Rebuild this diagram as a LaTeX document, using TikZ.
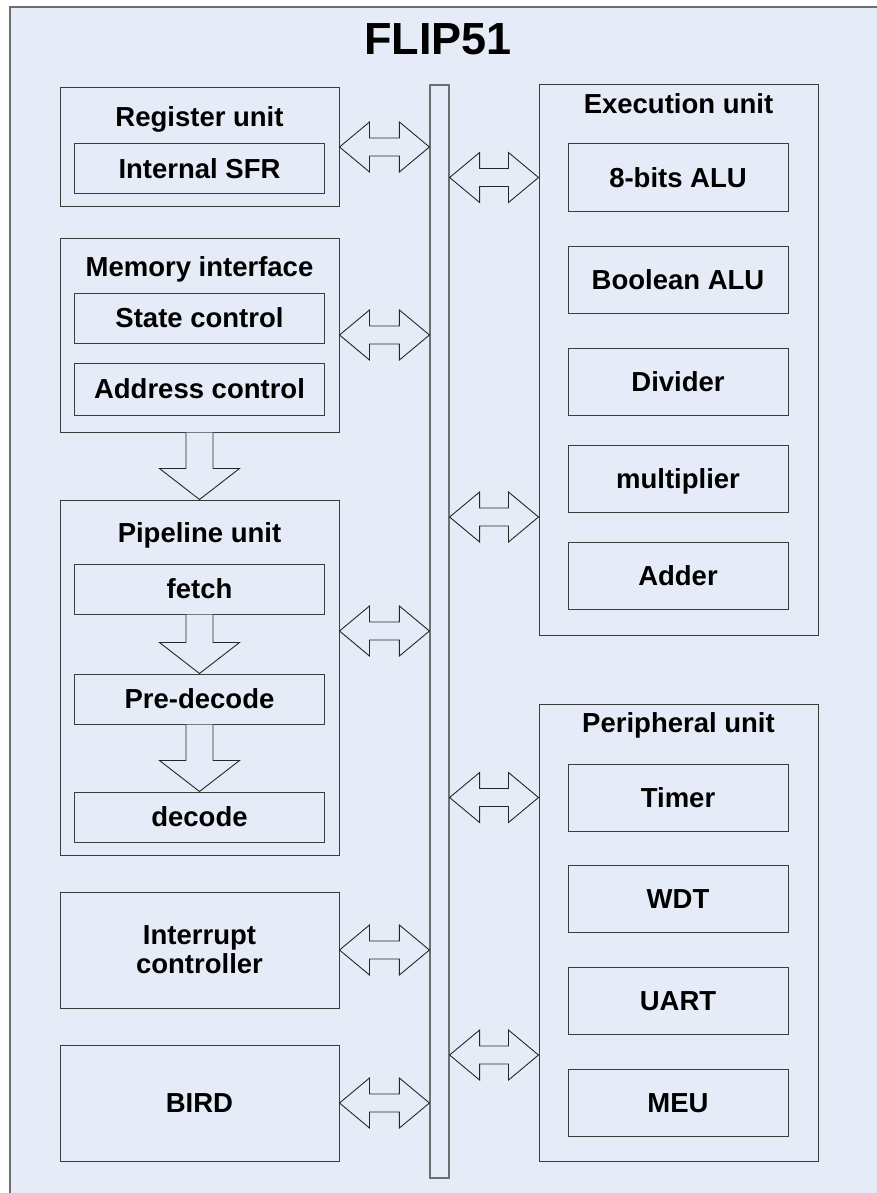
\documentclass[tikz,border=0pt]{standalone}
\usepackage{fontspec}
\setmainfont{Liberation Sans}
\usetikzlibrary{positioning,calc}
\definecolor{paneblue}{HTML}{E6ECF7}
\definecolor{edgegray}{HTML}{3C3C3C}
\definecolor{busgray}{HTML}{6E6E6E}
\newcommand{\labelfont}{\bfseries\fontsize{27.5pt}{29pt}\selectfont}

% double arrow between a box and the bus
\newcommand{\busarrow}[2]{%
  \draw[arrowline] let \p1=(#1), \p2=(#2) in
    (\x1,\y1) -- (\x1+30pt,\y1+25pt) -- (\x1+30pt,\y1+9pt) -- (\x2-30pt,\y1+9pt)
    -- (\x2-30pt,\y1+25pt) -- (\x2,\y1) -- (\x2-30pt,\y1-25pt) -- (\x2-30pt,\y1-9pt)
    -- (\x1+30pt,\y1-9pt) -- (\x1+30pt,\y1-25pt) -- cycle;}
% block arrow pointing down
\newcommand{\flowarrow}[2]{%
  \draw[arrowline] let \p1=(#1), \p2=(#2) in
    (\x1-13.5pt,\y1) -- (\x1-13.5pt,\y2+31pt) -- (\x1-40pt,\y2+31pt) -- (\x1,\y2)
    -- (\x1+40pt,\y2+31pt) -- (\x1+13.5pt,\y2+31pt) -- (\x1+13.5pt,\y1);}

\begin{document}
\begin{tikzpicture}[
x=1pt, y=-1pt,
frame/.style={draw=busgray, line width=1.5pt, fill=paneblue},
block/.style={draw=edgegray, line width=1pt, fill=paneblue, minimum width=279pt, inner sep=0pt},
head/.style={font=\labelfont, inner sep=0pt, anchor=base},
part/.style={draw=edgegray, line width=1pt, fill=paneblue, minimum width=250pt, minimum height=50pt,
  inner sep=0pt, text height=19.5pt, text depth=0pt, font=\labelfont},
cell/.style={part, minimum width=220pt, minimum height=67pt},
bus/.style={draw=busgray, line width=1.2pt, fill=paneblue, minimum width=19pt, minimum height=1093pt, inner sep=0pt},
arrowline/.style={draw=black!85, line width=0.9pt, fill=paneblue, line join=miter},
]
\useasboundingbox (0,0) rectangle (877,1193);
\draw[frame] (10,7) rectangle (890,1205);

\node[font=\bfseries\fontsize{45pt}{48pt}\selectfont, inner sep=0pt] (flip) at (438,39) {FLIP51};

%Bus
\node[bus] (bus) at (439.5,631.5) {};

%Left column
\node[block, minimum height=118pt] (reg) at (199.5,147) {};
\node[head, yshift=-39pt] (regT) at (reg.north) {Register unit};
\node[part] (sfr) at (199.5,169) {Internal SFR};

\node[block, minimum height=194pt] (mem) at (199.5,335) {};
\node[head, yshift=-38.5pt] (memT) at (mem.north) {Memory interface};
\node[part] (state) at (199.5,318) {State control};
\node[part, minimum height=52pt] (addr) [below=19pt of state] {Address control};

\node[block, minimum height=355pt] (pipe) at (199.5,677.5) {};
\node[head, yshift=-42.5pt] (pipeT) at (pipe.north) {Pipeline unit};
\node[part] (fetch) at (199.5,589) {fetch};
\node[part] (predec) [below=59pt of fetch] {Pre-decode};
\node[part] (dec) [below=67pt of predec] {decode};

\node[block, minimum height=116pt, font=\labelfont, align=center] (intr) at (199.5,950) {Interrupt\\controller};
\node[block, minimum height=116pt, font=\labelfont, text height=19.5pt, text depth=0pt] (bird) at (199.5,1103) {BIRD};

%Right column
\node[block, minimum height=550pt] (exe) at (678.5,360) {};
\node[head, yshift=-29pt] (exeT) at (exe.north) {Execution unit};
\node[cell] (alu8) at (678,177.5) {8-bits ALU};
\node[cell] (bool) [below=34pt of alu8] {Boolean ALU};
\node[cell] (div) [below=34pt of bool] {Divider};
\node[cell] (mult) [below=29pt of div] {multiplier};
\node[cell] (adder) [below=29pt of mult] {Adder};

\node[block, minimum height=457pt] (peri) at (678.5,932.5) {};
\node[head, yshift=-29pt] (periT) at (peri.north) {Peripheral unit};
\node[cell] (timer) at (678,797.5) {Timer};
\node[cell] (wdt) [below=33pt of timer] {WDT};
\node[cell] (uart) [below=34pt of wdt] {UART};
\node[cell] (meu) [below=34pt of uart] {MEU};

%Flow arrows
\flowarrow{mem.south}{pipe.north}
\flowarrow{fetch.south}{predec.north}
\flowarrow{predec.south}{dec.north}

%Bus connections, left
\busarrow{reg.east}{bus.west |- reg.east}
\busarrow{mem.east}{bus.west |- mem.east}
\busarrow{pipe.east |- 0,631}{bus.west |- 0,631}
\busarrow{intr.east}{bus.west |- intr.east}
\busarrow{bird.east}{bus.west |- bird.east}

%Bus connections, right
\busarrow{bus.east |- alu8.west}{exe.west |- alu8.west}
\busarrow{bus.east |- 0,517}{exe.west |- 0,517}
\busarrow{bus.east |- timer.west}{peri.west |- timer.west}
\busarrow{bus.east |- 0,1055}{peri.west |- 0,1055}
\end{tikzpicture}
\end{document}
